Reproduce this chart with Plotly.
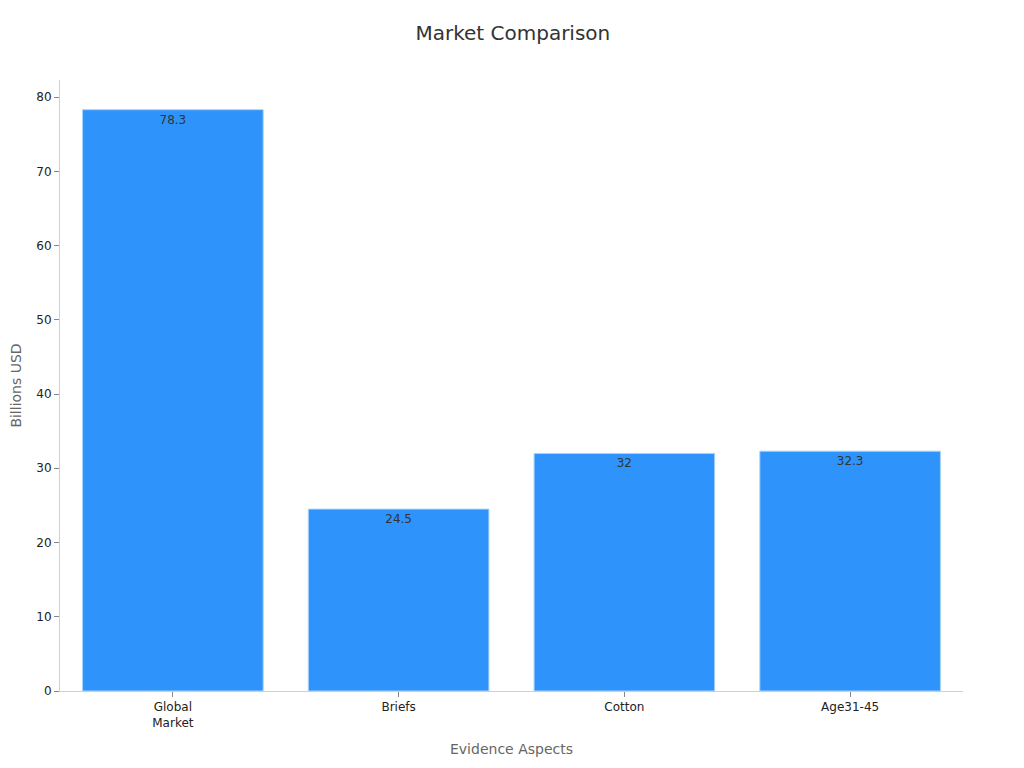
import plotly.graph_objects as go

categories = ["Global<br>Market", "Briefs", "Cotton", "Age31-45"]
values = [78.3, 24.5, 32, 32.3]
labels = ["78.3", "24.5", "32", "32.3"]

fig = go.Figure()
fig.add_trace(go.Bar(
    x=categories,
    y=values,
    text=labels,
    textposition="inside",
    insidetextanchor="end",
    textfont=dict(color="#333333", size=12),
    marker=dict(color="#2E93FA", line=dict(color="#A8D1FA", width=1)),
))

fig.update_layout(
    width=1024,
    height=768,
    title=dict(text="Market Comparison", x=0.493, y=0.977, xanchor="center",
               font=dict(size=20, color="#333333")),
    font=dict(family="DejaVu Sans", size=12, color="#222222"),
    plot_bgcolor="white",
    paper_bgcolor="white",
    margin=dict(l=52, r=69, t=72, b=85),
    bargap=0.2,
    showlegend=False,
)
fig.update_xaxes(
    title=dict(text="Evidence Aspects", font=dict(size=14, color="#666666")),
    showline=True, linecolor="#D0D0D0", linewidth=1,
    ticks="outside", tickcolor="#888888", ticklen=5,
    showgrid=False,
)
fig.update_yaxes(
    title=dict(text="Billions USD", font=dict(size=14, color="#666666")),
    range=[0, 82.3],
    dtick=10,
    automargin=False,
    showline=True, linecolor="#D0D0D0", linewidth=1,
    ticks="outside", tickcolor="#888888", ticklen=5,
    showgrid=False, zeroline=False,
)

fig.write_html("out.html")
